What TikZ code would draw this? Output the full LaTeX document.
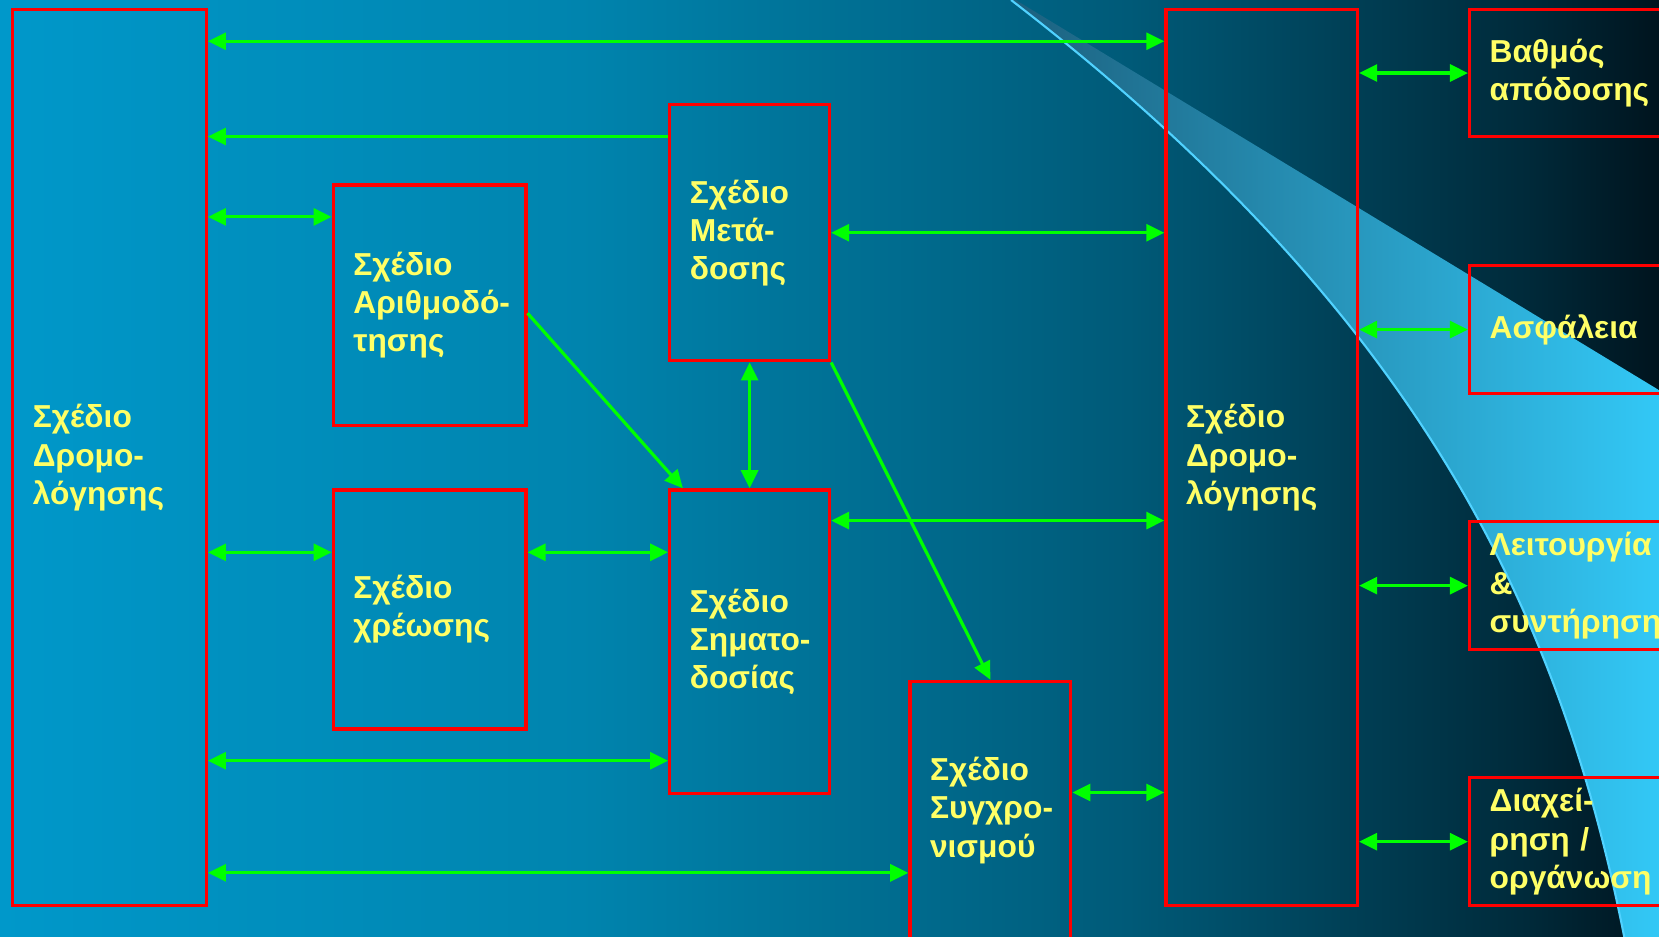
\documentclass[tikz,border=0pt]{standalone}
\usepackage{fontspec}
\setmainfont{Liberation Sans}
\usepackage{tikz}
\usetikzlibrary{arrows.meta}
\definecolor{kokkino}{RGB}{255,0,0}
\definecolor{prasino}{RGB}{0,255,0}
\definecolor{kitrino}{RGB}{255,255,102}
\definecolor{fonto1}{RGB}{0,152,202}
\definecolor{fonto2}{RGB}{0,132,174}
\definecolor{fonto3}{RGB}{0,90,120}
\definecolor{fonto4}{RGB}{0,42,58}
\definecolor{fonto5}{RGB}{0,20,30}
\definecolor{kyma1}{RGB}{28,96,126}
\definecolor{kyma2}{RGB}{51,202,248}
\definecolor{kyma3}{RGB}{80,210,255}
\pgfdeclarehorizontalshading{fonto}{100bp}{color(0bp)=(fonto1); color(25bp)=(fonto1);
  color(42.5bp)=(fonto2); color(59bp)=(fonto3); color(71bp)=(fonto4);
  color(75bp)=(fonto5); color(100bp)=(fonto5)}
\tikzset{
  plaisio/.style={rectangle, draw=kokkino, line width=1.6pt, align=left, text=kitrino,
    inner xsep=9.5pt, inner ysep=0pt, font=\bfseries\fontsize{15pt}{18pt}\selectfont},
  diplo/.style={{Triangle[length=8.5pt,width=8pt]}-{Triangle[length=8.5pt,width=8pt]},
    line width=1.5pt, draw=prasino},
  velos/.style={-{Triangle[length=8.5pt,width=8pt]}, line width=1.5pt, draw=prasino}
}
\begin{document}
\begin{tikzpicture}[x=0.5pt, y=-0.5pt]
\useasboundingbox (0,0) rectangle (1568,885);
\clip (0,0) rectangle (1568,885);
\shade[shading=fonto] (0,0) rectangle (1568,885);
\shade[left color=kyma1, right color=kyma2] (955.6,0) .. controls (1345.6,300) and (1477,585) .. (1537,895)
  -- (1580,895) -- (1580,376) -- (960,0) -- cycle;
\draw[kyma3, line width=1pt] (955.6,0) .. controls (1345.6,300) and (1477,585) .. (1537,895);

\node[plaisio, text width=72.5pt, minimum height=423.5pt] (dromo1) at (103.5,432.5) {Σχέδιο\\\mbox{Δρομο-}\\λόγησης};
\node[plaisio, text width=72pt, minimum height=113.5pt] (arith) at (406,288.5) {Σχέδιο\\\mbox{Αριθμοδό-}\\τησης};
\node[plaisio, text width=72pt, minimum height=113pt] (xreo) at (406,576) {Σχέδιο\\χρέωσης};
\node[plaisio, text width=56.5pt, minimum height=121pt] (meta) at (708.5,220) {Σχέδιο\\\mbox{Μετά-}\\δοσης};
\node[plaisio, text width=56.5pt, minimum height=143.5pt] (simat) at (708.5,606.5) {Σχέδιο\\\mbox{Σηματο-}\\δοσίας};
\node[plaisio, text width=57pt, minimum height=122pt] (sygx) at (936,766) {Σχέδιο\\\mbox{Συγχρο-}\\νισμού};
\node[plaisio, text width=71.5pt, minimum height=423.5pt] (dromo2) at (1192.5,432.5) {Σχέδιο\\\mbox{Δρομο-}\\λόγησης};
\node[plaisio, text width=86.5pt, minimum height=60pt] (vathmos) at (1494.5,69) {Βαθμός\\απόδοσης};
\node[plaisio, text width=86.5pt, minimum height=60.5pt] (asfal) at (1494.5,311.5) {Ασφάλεια};
\node[plaisio, text width=86.5pt, minimum height=60.5pt] (leit) at (1494.5,553.5) {Λειτουργία\\\&\\συντήρηση};
\node[plaisio, text width=86.5pt, minimum height=60.5pt] (diax) at (1494.5,795.5) {\mbox{Διαχεί-}\\ρηση /\\οργάνωση};

\draw[diplo] (dromo1.east |- 0,39) -- (dromo2.west |- 0,39); \draw[velos] (meta.west |- 0,129) -- (dromo1.east |- 0,129);
\draw[diplo] (dromo1.east |- 0,205) -- (arith.west |- 0,205); \draw[diplo] (meta.east) -- (meta.east -| dromo2.west);
\draw[velos] (arith.east |- 0,296) -- ([xshift=7pt]simat.north west); \draw[diplo] (meta.south) -- (simat.north);
\draw[velos] (meta.south east) -- (sygx.north); \draw[diplo] (simat.east |- 0,492) -- (dromo2.west |- 0,492);
\draw[diplo] (dromo1.east |- 0,522) -- (xreo.west |- 0,522); \draw[diplo] (xreo.east |- 0,522) -- (simat.west |- 0,522);
\draw[diplo] (dromo1.east |- 0,719) -- (simat.west |- 0,719); \draw[diplo] (sygx.east |- 0,749) -- (dromo2.west |- 0,749);
\draw[diplo] (dromo1.east |- 0,825) -- (sygx.west |- 0,825);
\draw[diplo] (dromo2.east |- vathmos.west) -- (vathmos.west); \draw[diplo] (dromo2.east |- asfal.west) -- (asfal.west);
\draw[diplo] (dromo2.east |- leit.west) -- (leit.west); \draw[diplo] (dromo2.east |- diax.west) -- (diax.west);
\end{tikzpicture}
\end{document}
